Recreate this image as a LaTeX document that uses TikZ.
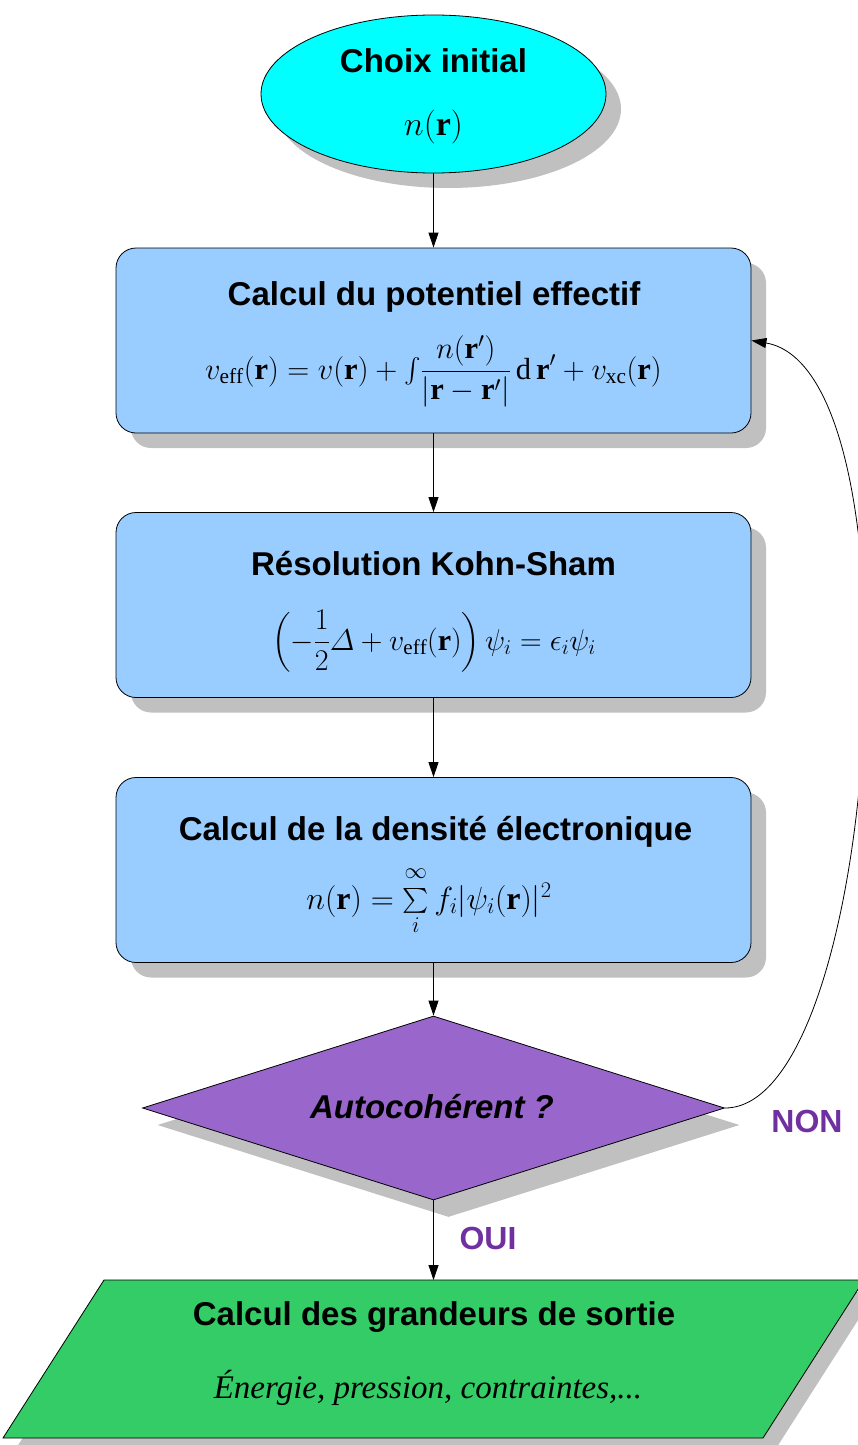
\RequirePackage{fix-cm}
\documentclass[tikz,border=0pt]{standalone}
\usepackage{amsmath}
\usepackage{fontspec}
\setmainfont{Liberation Serif}
\setsansfont{Liberation Sans}
\usetikzlibrary{shapes.geometric,shadows,arrows.meta}
\definecolor{shadowgray}{HTML}{C0C0C0}
\definecolor{startcyan}{HTML}{00FFFF}
\definecolor{boxblue}{HTML}{99CCFF}
\definecolor{diapurple}{HTML}{9966CC}
\definecolor{outgreen}{HTML}{33CC66}
\definecolor{labpurple}{HTML}{7030A0}
\begin{document}
\begin{tikzpicture}[x=1pt,y=-1pt,
  shadowed/.style={drop shadow={shadow xshift=15pt,shadow yshift=-15pt,fill=shadowgray,opacity=1}},
  stepbox/.style={draw,line width=0.8pt,rounded corners=20pt,fill=boxblue,minimum width=635pt,minimum height=185pt,inner sep=0pt,shadowed},
  ttl/.style={font=\fontsize{33}{40}\selectfont\sffamily\bfseries,anchor=base,inner sep=0pt},
  frm/.style={font=\fontsize{30.5}{36}\selectfont,anchor=base,inner sep=0pt},
  arr/.style={line width=0.8pt,-{Triangle[length=15pt,width=10pt]}},
  lab/.style={font=\fontsize{32}{38}\selectfont\sffamily\bfseries,text=labpurple,inner sep=0pt}]
\useasboundingbox (0,0) rectangle (858,1445);

% start ellipse
\node[ellipse,draw,line width=0.8pt,fill=startcyan,minimum width=345pt,minimum height=158pt,inner sep=0pt,shadowed] (init) at (433.5,94) {};
\node[ttl] (initt) at (433.5,73) {Choix initial};
\node[frm,font=\fontsize{34}{40}\selectfont] (initf) at (433.5,135) {$n(\mathbf{r})$};

% box 1
\node[stepbox] (b1) at (433.5,340.5) {};
\node[ttl] (b1t) at (434,305) {Calcul du potentiel effectif};
\node[frm] (b1f) at (433.5,379) {$\displaystyle v_{\mathrm{eff}}(\mathbf{r})=v(\mathbf{r})+{\textstyle\int}\frac{n(\mathbf{r}')}{|\mathbf{r}-\mathbf{r}'|}\,\mathrm{d}\,\mathbf{r}'+v_{\mathrm{xc}}(\mathbf{r})$};

% box 2
\node[stepbox] (b2) at (433.5,605) {};
\node[ttl] (b2t) at (433.5,575) {Résolution Kohn-Sham};
\node[frm,font=\fontsize{30}{36}\selectfont] (b2f) at (434,650) {$\displaystyle \left(-\frac{1}{2}\varDelta+v_{\mathrm{eff}}(\mathbf{r})\right)\psi_i=\epsilon_i\psi_i$};

% box 3
\node[stepbox] (b3) at (433.5,870) {};
\node[ttl] (b3t) at (435.5,840) {Calcul de la densité électronique};
\node[frm,font=\fontsize{32}{38}\selectfont] (b3f) at (429,909) {$n(\mathbf{r})=\sum\limits_i^{\raisebox{5pt}{$\scriptstyle\infty$}} f_i|\psi_i(\mathbf{r})|^2$};

% decision
\node[diamond,draw,line width=0.8pt,fill=diapurple,minimum width=582pt,minimum height=184pt,inner sep=0pt,
      drop shadow={shadow xshift=15pt,shadow yshift=-17pt,fill=shadowgray,opacity=1}] (dec) at (433.5,1108) {};
\node[ttl,font=\fontsize{33}{40}\selectfont\sffamily\bfseries\itshape] (dect) at (432,1118) {Autocohérent ?};

% output parallelogram
\draw[line width=0.8pt,fill=outgreen,drop shadow={shadow xshift=12pt,shadow yshift=-12pt,fill=shadowgray,opacity=1}]
  (104,1280) -- (864,1280) -- (763,1438) -- (3,1438) -- cycle;
\coordinate (outtop) at (433.5,1280);
\node[ttl] (outt) at (434,1325) {Calcul des grandeurs de sortie};
\node[anchor=base,inner sep=0pt,font=\fontsize{33}{40}\selectfont\itshape] (outf) at (428,1398) {Énergie, pression, contraintes,...};

% connectors
\draw[arr] (init.south) -- (b1.north);
\draw[arr] (b1.south) -- (b2.north);
\draw[arr] (b2.south) -- (b3.north);
\draw[arr] (b3.south) -- (dec.north);
\draw[arr] (dec.south) -- (outtop);
\draw[arr] (dec.east) .. controls (880,1108) and (925,370) .. (b1.east);

% labels
\node[lab] (non) at (807,1121) {NON};
\node[lab] (oui) at (488,1238) {OUI};
\end{tikzpicture}
\end{document}
